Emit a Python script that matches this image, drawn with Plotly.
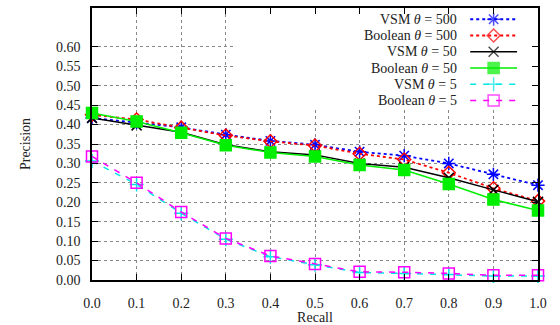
import plotly.graph_objects as go

# Recall levels (x) and interpolated precision for each run
recall = [0.0, 0.1, 0.2, 0.3, 0.4, 0.5, 0.6, 0.7, 0.8, 0.9, 1.0]

vsm_500 = [0.417, 0.405, 0.393, 0.374, 0.358, 0.348, 0.330, 0.320, 0.300, 0.272, 0.244]
boolean_500 = [0.425, 0.413, 0.392, 0.372, 0.357, 0.346, 0.325, 0.310, 0.276, 0.236, 0.203]
vsm_50 = [0.417, 0.398, 0.380, 0.348, 0.330, 0.322, 0.300, 0.290, 0.263, 0.232, 0.201]
boolean_50 = [0.430, 0.408, 0.379, 0.347, 0.328, 0.318, 0.296, 0.283, 0.247, 0.207, 0.179]
vsm_5 = [0.306, 0.246, 0.172, 0.105, 0.060, 0.039, 0.019, 0.017, 0.014, 0.010, 0.010]
boolean_5 = [0.318, 0.250, 0.175, 0.107, 0.062, 0.041, 0.021, 0.020, 0.017, 0.012, 0.012]

series_names = [
    "VSM <i>θ</i> = 500",
    "Boolean <i>θ</i> = 500",
    "VSM <i>θ</i> = 50",
    "Boolean <i>θ</i> = 50",
    "VSM <i>θ</i> = 5",
    "Boolean <i>θ</i> = 5",
]
series_values = [vsm_500, boolean_500, vsm_50, boolean_50, vsm_5, boolean_5]

y_ticks = [0.00, 0.05, 0.10, 0.15, 0.20, 0.25, 0.30, 0.35, 0.40, 0.45, 0.50, 0.55, 0.60]
y_tick_text = ["0.00", "0.05", "0.10", "0.15", "0.20", "0.25", "0.30",
               "0.35", "0.40", "0.45", "0.50", "0.55", "0.60"]
x_ticks = recall
x_tick_text = ["0.0", "0.1", "0.2", "0.3", "0.4", "0.5", "0.6", "0.7", "0.8", "0.9", "1.0"]

# Line / marker styling per series (gnuplot-like)
styles = [
    dict(color="#0000ff", dash="3px,3px", width=1.8, symbol="asterisk-open", size=11),
    dict(color="#ff0000", dash="3px,3px", width=1.8, symbol="diamond-open", size=10),
    dict(color="#000000", dash="solid", width=1.5, symbol="x-thin-open", size=10),
    dict(color="#00ee00", dash="solid", width=1.5, symbol="square", size=11),
    dict(color="#00e5e5", dash="6px,7px", width=1.5, symbol="cross-thin-open", size=10),
    dict(color="#ff00ff", dash="6px,7px", width=1.5, symbol="square-open", size=11),
]

FONT = "Liberation Serif"
TEXT_COLOR = "#222"
X_RANGE = [0.0, 1.0]
Y_RANGE = [0.0, 0.70]

fig = go.Figure()

for name, vals, st in zip(series_names, series_values, styles):
    fig.add_trace(go.Scatter(
        x=recall, y=vals, name=name, mode="lines+markers",
        line=dict(color=st["color"], dash=st["dash"], width=st["width"]),
        marker=dict(symbol=st["symbol"], size=st["size"], color=st["color"],
                    line=dict(color=st["color"], width=1.5)),
        showlegend=False, cliponaxis=False,
    ))

# Key box in the upper right: text right-aligned, sample line with marker to its right
KEY_TEXT_X = 0.822
KEY_X0, KEY_X1 = 0.848, 0.953
KEY_TOP = 0.671
KEY_STEP = 0.0418

fig.add_shape(type="rect", xref="x", yref="y", x0=0.323, x1=1.0, y0=0.443, y1=0.70,
              fillcolor="white", line=dict(width=0), layer="between")

for i, (name, st) in enumerate(zip(series_names, styles)):
    ky = KEY_TOP - i * KEY_STEP
    fig.add_trace(go.Scatter(
        x=[KEY_X0, (KEY_X0 + KEY_X1) / 2, KEY_X1], y=[ky, ky, ky],
        mode="lines+markers",
        line=dict(color=st["color"], dash=st["dash"], width=st["width"]),
        marker=dict(symbol=st["symbol"], size=[0, st["size"], 0], color=st["color"],
                    line=dict(color=st["color"], width=1.5)),
        showlegend=False, hoverinfo="skip",
    ))
    fig.add_annotation(x=KEY_TEXT_X, y=ky, xref="x", yref="y", text=name,
                       showarrow=False, xanchor="right", yanchor="middle",
                       font=dict(family=FONT, size=14, color=TEXT_COLOR))

axis_common = dict(
    showline=True, linecolor="black", linewidth=1.5, mirror="ticks",
    ticks="inside", ticklen=6, tickcolor="black", tickwidth=1,
    showgrid=True, gridcolor="#888", griddash="dot", gridwidth=1,
    zeroline=False, automargin=False,
    tickfont=dict(family=FONT, size=14, color=TEXT_COLOR),
)

fig.update_xaxes(range=X_RANGE, tickvals=x_ticks, ticktext=x_tick_text,
                 title=dict(text="Recall", font=dict(family=FONT, size=14, color=TEXT_COLOR), standoff=14),
                 ticklabelstandoff=9, **axis_common)
fig.update_yaxes(range=Y_RANGE, tickvals=y_ticks, ticktext=y_tick_text,
                 title=dict(text="Precision", font=dict(family=FONT, size=14, color=TEXT_COLOR), standoff=22),
                 ticklabelstandoff=7, **axis_common)

fig.update_layout(
    width=560, height=325,
    margin=dict(l=92, r=22, t=8, b=45),
    paper_bgcolor="white", plot_bgcolor="white",
    showlegend=False,
)

fig.write_html("out.html")
